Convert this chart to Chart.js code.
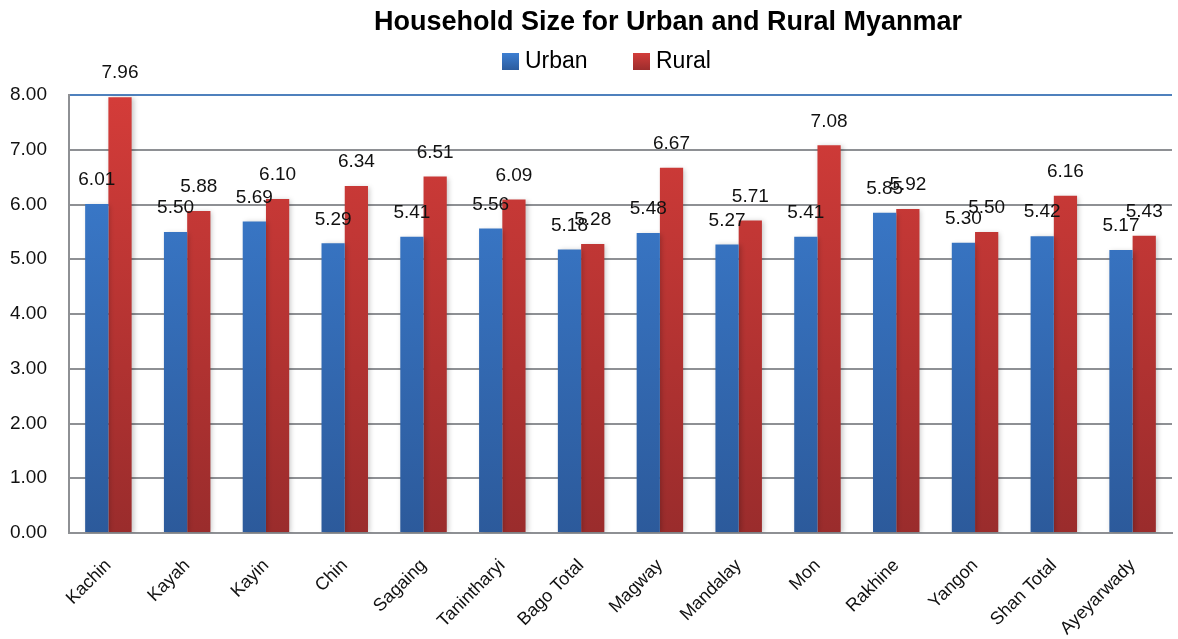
<!DOCTYPE html>
<html>
<head>
<meta charset="utf-8">
<style>
  html, body { margin: 0; padding: 0; background: #ffffff; }
  #wrap { width: 1178px; height: 639px; position: relative; }
</style>
<script src="https://cdn.jsdelivr.net/npm/chart.js@4/dist/chart.umd.min.js"></script>
</head>
<body>
<div id="wrap"><canvas id="chart" width="1178" height="639"></canvas></div>
<script>
// Household size by state/region
const categories = ['Kachin', 'Kayah', 'Kayin', 'Chin', 'Sagaing', 'Tanintharyi', 'Bago Total',
  'Magway', 'Mandalay', 'Mon', 'Rakhine', 'Yangon', 'Shan Total', 'Ayeyarwady'];
const urbanValues = [6.01, 5.50, 5.69, 5.29, 5.41, 5.56, 5.18, 5.48, 5.27, 5.41, 5.85, 5.30, 5.42, 5.17];
const ruralValues = [7.96, 5.88, 6.10, 6.34, 6.51, 6.09, 5.28, 6.67, 5.71, 7.08, 5.92, 5.50, 6.16, 5.43];
const seriesNames = ['Urban', 'Rural'];
const titleText = 'Household Size for Urban and Rural Myanmar';

const FONT = '"Liberation Sans", "DejaVu Sans", sans-serif';

// vertical gradient fill for bars, following the chart area
function barGradient(top, bottom) {
  return (ctx) => {
    const chart = ctx.chart;
    const area = chart.chartArea;
    if (!area) return top;
    const g = chart.ctx.createLinearGradient(0, area.top, 0, area.bottom);
    g.addColorStop(0, top);
    g.addColorStop(1, bottom);
    return g;
  };
}

// value labels above each bar
const valueLabels = {
  id: 'valueLabels',
  afterDatasetsDraw(chart) {
    const ctx = chart.ctx;
    ctx.save();
    ctx.font = '19px ' + FONT;
    ctx.fillStyle = '#111111';
    ctx.textAlign = 'center';
    ctx.textBaseline = 'middle';
    chart.data.datasets.forEach((ds, di) => {
      const meta = chart.getDatasetMeta(di);
      meta.data.forEach((bar, i) => {
        ctx.fillText(ds.data[i].toFixed(2), bar.x, bar.y - 24);
      });
    });
    ctx.restore();
  }
};

// title and legend row drawn above the plot
const header = {
  id: 'header',
  afterDraw(chart) {
    const ctx = chart.ctx;
    ctx.save();
    ctx.fillStyle = '#000000';
    ctx.textBaseline = 'middle';
    ctx.textAlign = 'center';
    ctx.font = 'bold 27px ' + FONT;
    ctx.fillText(titleText, 668, 23);

    ctx.font = '23px ' + FONT;
    ctx.textAlign = 'left';
    const items = [
      { name: seriesNames[0], x: 502, top: '#3d7fd2', bottom: '#2c5c9e' },
      { name: seriesNames[1], x: 633, top: '#d33d3a', bottom: '#9c2d2d' }
    ];
    items.forEach(it => {
      const g = ctx.createLinearGradient(0, 53, 0, 70);
      g.addColorStop(0, it.top);
      g.addColorStop(1, it.bottom);
      ctx.fillStyle = g;
      ctx.fillRect(it.x, 53, 17, 17);
      ctx.fillStyle = '#000000';
      ctx.fillText(it.name, it.x + 23, 62);
    });
    ctx.restore();
  }
};

// soft shadow behind the bars
const barShadow = {
  id: 'barShadow',
  beforeDatasetsDraw(chart) {
    const ctx = chart.ctx;
    ctx.save();
    ctx.shadowColor = 'rgba(0,0,0,0.22)';
    ctx.shadowBlur = 5;
    ctx.shadowOffsetX = 2;
    ctx.shadowOffsetY = 1;
  },
  afterDatasetsDraw(chart) {
    chart.ctx.restore();
  }
};

new Chart(document.getElementById('chart'), {
  type: 'bar',
  data: {
    labels: categories,
    datasets: [
      { label: seriesNames[0], data: urbanValues, backgroundColor: barGradient('#3d80d4', '#2c5a9b'), borderWidth: 0 },
      { label: seriesNames[1], data: ruralValues, backgroundColor: barGradient('#d43c39', '#9a2c2c'), borderWidth: 0 }
    ]
  },
  options: {
    responsive: false,
    animation: false,
    devicePixelRatio: 1,
    layout: { padding: { top: 95, right: 6, left: 0, bottom: 0 } },
    datasets: { bar: { categoryPercentage: 0.59, barPercentage: 1.0 } },
    plugins: {
      legend: { display: false },
      title: { display: false },
      tooltip: { enabled: false }
    },
    scales: {
      x: {
        grid: { display: false, drawTicks: false },
        border: { display: true, color: '#8e9094', width: 2 },
        ticks: {
          color: '#111111',
          font: { family: FONT, size: 18 },
          minRotation: 45,
          maxRotation: 45,
          padding: 22,
          autoSkip: false
        },
        afterFit(scale) { scale.height = 106; }
      },
      y: {
        min: 0,
        max: 8,
        grid: {
          color: (c) => (c.tick && c.tick.value === 8 ? '#4f81bd' : '#8e9094'),
          lineWidth: 2,
          drawTicks: false
        },
        border: { display: true, color: '#8e9094', width: 2 },
        ticks: {
          stepSize: 1,
          color: '#111111',
          font: { family: FONT, size: 19 },
          padding: 22,
          callback: (v) => Number(v).toFixed(2)
        },
        afterFit(scale) { scale.width = 69; }
      }
    }
  },
  plugins: [barShadow, valueLabels, header]
});
</script>
</body>
</html>
